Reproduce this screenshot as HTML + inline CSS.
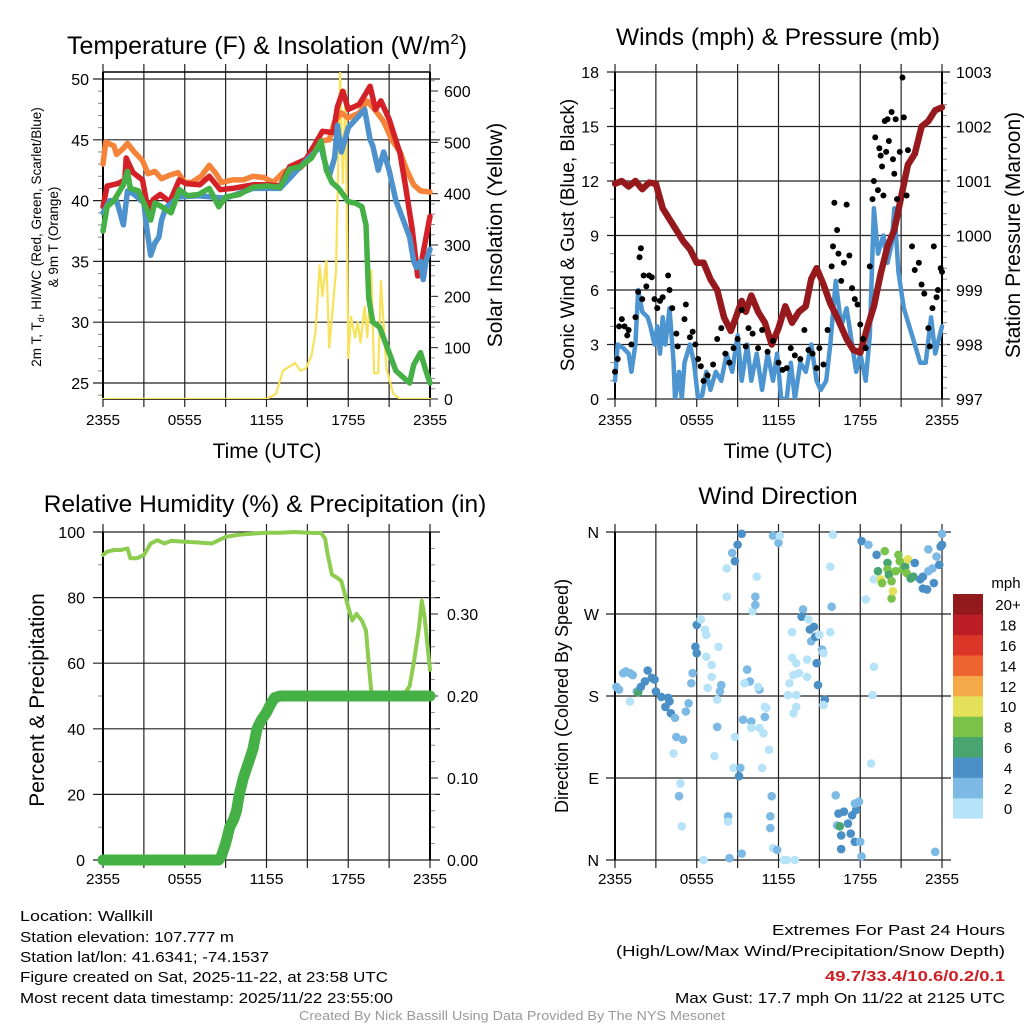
<!DOCTYPE html>
<html><head><meta charset="utf-8"><style>
html,body{margin:0;padding:0;background:#fff;}
svg{display:block;font-family:"Liberation Sans",sans-serif;}
</style></head><body>
<svg id="fig" width="1024" height="1024" viewBox="0 0 1024 1024" xmlns="http://www.w3.org/2000/svg">
<rect width="1024" height="1024" fill="#fff"/>
<g id="p1"></g>
<g id="p2"></g>
<g id="p3"></g>
<g id="p4"></g>
<g font-size="15" fill="#000">
<text x="20" y="921" textLength="133" lengthAdjust="spacingAndGlyphs">Location: Wallkill</text>
<text x="20" y="942" textLength="214" lengthAdjust="spacingAndGlyphs">Station elevation: 107.777 m</text>
<text x="20" y="962" textLength="249" lengthAdjust="spacingAndGlyphs">Station lat/lon: 41.6341; -74.1537</text>
<text x="20" y="982" textLength="368" lengthAdjust="spacingAndGlyphs">Figure created on Sat, 2025-11-22, at 23:58 UTC</text>
<text x="20" y="1003" textLength="373" lengthAdjust="spacingAndGlyphs">Most recent data timestamp: 2025/11/22 23:55:00</text>
</g>
<g font-size="15" text-anchor="end">
<text x="1005" y="935" textLength="233" lengthAdjust="spacingAndGlyphs">Extremes For Past 24 Hours</text>
<text x="1005" y="956" textLength="389" lengthAdjust="spacingAndGlyphs">(High/Low/Max Wind/Precipitation/Snow Depth)</text>
<text x="1005" y="981" fill="#cc2026" font-weight="bold" textLength="180" lengthAdjust="spacingAndGlyphs">49.7/33.4/10.6/0.2/0.1</text>
<text x="1005" y="1003" textLength="330" lengthAdjust="spacingAndGlyphs">Max Gust: 17.7 mph On 11/22 at 2125 UTC</text>
</g>
<text x="512" y="1020" font-size="13" fill="#999" text-anchor="middle" textLength="426" lengthAdjust="spacingAndGlyphs">Created By Nick Bassill Using Data Provided By The NYS Mesonet</text>
</svg>
<script>
// ---------- DATA ----------
const timeTicks = ["2355","0555","1155","1755","2355"];
const tempT = [0,0.3,1.1,1.6,1.7,2.2,2.9,3.3,3.7,4.2,4.9,5.6,6.1,7.1,7.8,8.6,9.5,11,12,13,13.7,14.9,15.6,16.1,16.9,17.2,17.6,18,18.8,19.6,20,20.4,21,21.8,22.2,22.7,23.1,23.4,24];
const tempV = [39.5,41.2,41.4,41.7,43.5,42.3,41.7,39.2,40.1,40.5,39.9,41.7,41.4,41.3,42.0,40.9,41.0,41.3,41.3,41.2,42.8,43.4,44.7,45.7,45.6,47.7,49.0,47.5,47.9,49.4,47.5,48.2,46.7,43.9,41.2,37.6,33.8,35.1,38.7];
const t9mT = [0,0.2,0.8,1.0,1.5,1.8,2.3,2.9,3.3,3.8,4.3,4.9,5.5,6.0,6.5,7.2,7.8,8.3,8.7,9.5,10.3,11,11.8,12.5,13.3,14.5,15.5,16.0,16.6,17.0,17.5,18.0,18.8,19.4,20.0,20.6,21.2,21.8,22.3,22.8,23.3,24];
const t9mV = [43.0,44.8,44.5,43.8,44.3,44.7,44.0,43.3,42.2,42.4,41.8,42.1,42.3,41.5,41.5,42.0,42.9,42.2,41.5,41.7,41.7,42.0,41.9,41.5,42.4,42.7,44.0,44.9,45.0,46.5,47.2,46.8,47.2,48.2,47.4,46.5,45.0,44.0,42.5,41.3,40.8,40.7];
const hiwcT = [0,0.5,1.0,1.5,1.8,2.3,3.0,3.2,3.5,3.8,4.1,4.3,4.6,5.5,7,9,11,13,15,16.0,16.2,16.6,17.0,17.2,17.5,18.0,18.8,19.2,19.6,19.8,20.2,20.6,21.0,21.5,22.0,22.5,22.8,23.0,23.3,23.5,23.7,24];
const hiwcV = [39.0,40.0,40.0,38.0,40.8,40.5,39.8,37.8,35.5,36.5,37.0,38.4,39.4,40.3,40.4,40.2,41.0,41.0,43.4,44.5,43.5,42.0,43.5,46.2,44.0,46.0,47.0,47.5,45.0,44.5,42.5,44.0,42.5,40.0,38.5,37.0,35.0,34.5,35.0,33.5,35.0,36.0];
const dewT = [0,0.3,0.8,1.5,1.8,2.0,2.6,3.2,3.5,3.8,4.3,5.0,5.6,6.2,7.0,7.8,8.5,9.0,10,11,12,13,13.7,14.5,15.3,16.0,16.4,16.8,17.3,18,18.5,19,19.3,19.5,19.8,20.3,21,21.5,22,22.5,22.8,23.3,23.7,24];
const dewV = [37.5,39.5,40.0,41.3,42.4,41.0,40.8,39.3,38.4,39.8,39.5,39.0,40.9,40.4,40.5,41.0,39.5,40.3,40.5,41.1,41.2,41.1,42.6,42.8,43.5,44.9,42.5,41.5,41.0,39.9,39.8,39.5,38.0,32.0,30.0,29.6,27.5,26.0,25.5,25.0,26.5,27.5,26.0,25.0];
const solarT = [0,12,12.7,13.2,13.5,14.1,14.5,14.9,15.3,15.6,15.9,16.1,16.4,16.6,16.9,17.1,17.4,17.6,17.8,18.0,18.2,18.5,18.7,18.9,19.2,19.4,19.7,19.9,20.2,20.4,20.8,21.3,21.8,24];
const solarV = [0,0,10,55,60,70,55,60,85,130,260,200,270,100,190,250,635,420,600,80,160,120,150,110,180,120,250,50,50,230,60,10,0,0];
const windT = [0,0.2,0.6,1.0,1.2,1.5,1.7,2.0,2.4,2.6,2.9,3.1,3.3,3.5,3.7,4.0,4.3,4.4,4.7,4.9,5.1,5.5,5.8,6.1,6.4,6.7,7.0,7.4,7.8,8.2,8.6,9.0,9.3,9.7,10.0,10.4,10.8,11.2,11.6,11.9,12.2,12.6,12.9,13.2,13.6,14.0,14.4,14.8,15.1,15.5,15.8,16.2,16.6,17.0,17.4,17.7,18.0,18.4,18.7,19.0,19.3,19.7,20.0,20.3,20.5,20.8,21.2,21.6,22.0,22.4,22.8,23.2,23.5,24];
const windV = [1.0,3.0,2.8,2.5,1.5,3.0,6.0,4.8,4.5,4.0,3.0,4.0,2.5,4.5,3.0,5.0,2.0,0,1.5,0,2.0,3.0,2.0,0,0.2,1.5,0.5,1.5,1.0,2.5,1.5,3.5,1.0,3.0,1.0,2.5,0.5,2.5,1.0,2.5,0,0,2.0,0,2.0,1.5,3.0,1.0,0.5,1.0,3.0,6.5,4.0,5.0,3.0,1.5,2.5,1.0,3.5,10.5,8.0,9.0,7.5,8.5,10.5,7.0,5.0,4.0,3.0,2.0,2.0,4.5,2.5,4.0];
const gustT = [0,0.2,0.3,0.5,0.7,0.9,1.0,1.2,1.5,1.7,1.8,1.9,2.0,2.1,2.3,2.5,2.7,2.9,3.1,3.3,3.5,3.9,4.0,4.2,4.5,4.6,5.1,5.2,5.5,5.7,5.9,6.1,6.3,6.5,6.8,7.2,7.5,7.8,8.1,8.4,8.7,9.0,9.3,9.6,9.8,10.1,10.5,10.8,11.2,11.6,12.0,12.3,12.6,12.9,13.2,13.6,13.9,14.2,14.5,14.8,15.0,15.3,15.6,15.9,16.0,16.1,16.3,16.4,16.6,16.8,17.0,17.2,17.4,17.6,17.8,18.0,18.2,18.4,18.7,18.9,19.0,19.1,19.3,19.4,19.5,19.6,19.7,19.8,19.9,20.0,20.1,20.3,20.4,20.5,20.6,20.7,20.9,21.1,21.2,21.4,21.5,21.8,22.0,22.3,22.5,22.7,23.0,23.1,23.3,23.4,23.6,23.7,23.9,24];
const gustV = [1.5,2.2,4,4.4,4,3.5,3.8,3.0,4.5,5.9,7.8,8.3,5.5,6.8,6.2,6.8,6.7,5.5,5.0,5.4,5.6,6.8,6.0,5.0,3.6,2.9,4.4,5.2,3.4,3.7,3.0,2.2,1.8,1.0,1.3,1.9,3.3,3.9,2.5,2.0,2.8,3.3,4.9,2.9,3.9,3.6,2.8,3.8,2.6,3.2,2.0,1.6,1.7,2.8,2.4,2.2,3.8,2.7,2.5,1.7,2.8,1.9,3.8,7.3,8.4,10.8,9.3,8.0,6.5,7.5,10.7,7.9,6.1,5.5,5.2,4.1,3.3,2.8,7.3,11.0,12.0,14.4,11.5,13.8,13.4,12.8,11.2,15.3,13.6,15.4,14.2,15.8,13.2,12.4,15.4,11.0,13.6,17.7,15.5,11.2,13.7,8.4,7.1,7.5,6.3,5.8,3.9,2.9,5.0,8.4,5.6,6.0,7.2,7.0];
const presT = [0,0.5,1.0,1.5,2.0,2.5,3.0,3.5,4.0,4.5,5.0,5.5,6.0,6.5,7.0,7.5,8.0,8.5,8.8,9.3,9.6,10.0,10.5,11.0,11.5,12.0,12.5,13.0,13.5,14.0,14.4,14.8,15.3,15.8,16.3,17.0,17.5,18.0,18.5,19.0,19.5,20.0,20.5,21.0,21.5,22.0,22.5,23.0,23.5,24];
const presV = [1000.95,1001.0,1000.9,1001.0,1000.85,1000.97,1000.95,1000.5,1000.3,1000.1,999.9,999.75,999.5,999.5,999.2,999.0,998.5,998.25,998.45,998.8,998.6,998.9,998.6,998.4,998.0,998.3,998.7,998.4,998.6,998.7,999.2,999.4,999.1,998.75,998.5,998.1,997.9,997.85,998.3,998.7,999.3,999.8,1000.1,1000.7,1001.3,1001.5,1002.0,1002.1,1002.3,1002.35];
const rhT = [0,0.3,0.8,1.3,1.8,2.0,2.5,3.0,3.5,4.0,4.5,5.0,6.0,7.0,8.0,8.5,9.0,10,11,12,13,14,15,16,16.3,16.5,16.8,17.2,17.5,18.0,18.3,18.6,19.0,19.3,19.5,19.7,20.0,20.3,21,21.5,22,22.5,22.8,23.2,23.4,23.6,24];
const rhV = [93,94,94.5,94.5,95,92,92,93,96.5,97.5,96.5,97.3,97,96.8,96.5,97.5,98.5,99.2,99.5,99.8,99.8,100,99.8,99.7,98,93,87,86,85,77,73,75,73,70,60,51,51,51,49,49,50,53,60,71,79,74,58];
const precT = [0,1,2,3,4,5,6,7,8,8.5,8.7,9.0,9.3,9.6,9.8,10.0,10.3,10.7,11.0,11.3,11.6,12.0,12.3,12.6,13,14,15,16,17,18,19,20,21,22,23,24];
const precV = [0,0,0,0,0,0,0,0,0,0,0.005,0.02,0.04,0.05,0.06,0.08,0.1,0.12,0.135,0.16,0.17,0.18,0.19,0.198,0.2,0.2,0.2,0.2,0.2,0.2,0.2,0.2,0.2,0.2,0.2,0.2];
const dirT = [0.1,0.3,0.6,0.8,1.1,1.3,1.6,1.7,1.9,2.2,2.4,2.7,2.9,3.0,3.4,3.7,3.9,4.0,4.1,4.4,4.5,5.0,5.2,5.4,4.3,4.8,4.7,4.9,1.1,6.0,5.9,6.0,5.7,5.6,6.3,6.6,6.7,6.7,7.1,7.1,6.8,7.6,7.8,7.7,7.5,7.5,7.3,8.2,8.6,8.8,9.0,9.3,8.2,9.7,9.9,9.5,9.4,10.0,10.0,10.6,10.5,11.0,11.1,11.0,10.6,10.9,11.3,10.8,8.8,8.7,9.2,9.1,8.3,8.3,8.4,9.3,6.5,10.4,10.1,10.3,10.3,11.6,12.0,12.1,11.5,11.4,11.4,11.6,11.9,12.4,12.6,13.2,13.8,13.7,14.2,14.3,14.6,14.4,14.7,14.8,14.9,15.2,15.3,15.0,15.4,15.3,13.1,13.0,13.3,13.5,12.8,12.7,13.3,13.3,13.1,13.0,14.1,14.1,15.8,15.9,16.0,15.8,16.2,16.4,16.8,17.4,17.7,16.3,16.5,16.6,17.1,17.3,17.6,18.0,16.6,18.1,17.9,17.6,18.4,19.0,18.9,18.8,18.1,18.6,19.0,19.2,19.3,19.5,19.6,19.8,20.0,20.0,20.1,20.3,20.3,20.4,20.6,20.8,20.9,21.1,21.3,21.4,21.5,21.7,21.9,22.0,22.4,22.6,22.9,22.6,23.0,23.3,23.4,23.6,23.8,23.9,24.0,24.0,23.5,23.0];
const dirV = [190,187,205,207,205,203,185,184,190,196,208,200,198,185,179,168,178,174,161,156,135,132,163,172,117,84,70,37,174,258,234,227,205,194,264,253,247,223,214,201,189,234,192,185,176,146,114,320,337,328,346,358,289,209,196,194,154,152,145,187,190,168,167,157,145,139,121,101,135,101,101,92,48,42,2,7,0,311,273,289,280,356,348,356,70,48,35,13,11,0,0,0,275,267,264,253,256,240,245,216,192,231,227,247,176,170,203,222,216,205,194,181,181,168,161,250,220,201,322,278,357,250,71,51,53,49,55,38,37,27,40,29,20,20,12,4,64,62,286,212,181,106,350,346,308,335,317,308,304,339,326,319,313,306,287,295,317,335,328,319,322,315,330,309,311,326,308,298,297,311,341,320,304,333,324,344,358,346,9,317];
const dirS = [3,3,3,3,3,3,3,7,5,5,5,5,5,5,5,5,5,5,5,3,3,3,3,3,1,1,3,1,1,5,5,5,3,3,1,1,1,1,1,1,1,1,3,3,1,3,1,1,3,5,5,5,1,3,3,1,3,3,1,3,1,1,1,3,1,1,1,1,1,1,3,5,3,1,3,3,1,1,1,3,3,3,3,1,3,3,3,1,3,1,1,1,3,5,1,5,5,3,5,5,5,3,1,1,5,1,1,1,1,1,1,1,1,1,1,1,1,1,1,3,1,1,3,5,5,5,5,3,7,5,5,5,5,3,5,3,3,3,1,1,1,1,5,3,1,5,7,11,9,9,7,9,7,9,9,11,9,9,9,9,7,9,11,7,7,5,5,5,5,5,3,3,5,3,5,5,3,5,3,3];
const cbLabels = ["0","2","4","6","8","10","12","14","16","18","20+"];
const cbColors = ["#b6e3f8","#7cb9e4","#4a8fc6","#48a56f","#7bc24b","#e4e05a","#f5a847","#ef6331","#dd3428","#bd1e25","#92191c"];

// ---------- HELPERS ----------
const NS="http://www.w3.org/2000/svg";
function mk(parent,tag,attrs,txt){const e=document.createElementNS(NS,tag);for(const k in attrs)e.setAttribute(k,attrs[k]);if(txt!==undefined)e.textContent=txt;parent.appendChild(e);return e;}
function lin(d0,d1,r0,r1){return v=>r0+(v-d0)*(r1-r0)/(d1-d0);}
function pathOf(ts,vs,sx,sy){return ts.map((t,i)=>(i?"L":"M")+sx(t).toFixed(1)+","+sy(vs[i]).toFixed(1)).join("");}

function frame(g,X0,X1,Y0,Y1,tickY){
  const sx=lin(0,24,X0,X1);
  for(let h=0;h<=24;h+=3){
    const l=mk(g,"line",{x1:sx(h),x2:sx(h),y1:Y0-8,y2:Y1+8,stroke:"#222","stroke-width":1.2});
    
    
  }
  timeTicks.forEach((s,i)=>{
    const t=mk(g,"text",{x:sx(i*6),y:tickY,"font-size":15,"text-anchor":"middle",textLength:34,lengthAdjust:"spacingAndGlyphs"},s);
    
    
  });
  return sx;
}
function hgrid(g,X0,X1,y,ext){const l=mk(g,"line",{x1:X0-ext,x2:X1+ext,y1:y,y2:y,stroke:"#222","stroke-width":1.2});}
function lbl(g,x,y,s,anchor,size,name){const t=mk(g,"text",{x:x,y:y,"font-size":size||15,"text-anchor":anchor||"end"},s);return t;}
function rot(g,x,y,s,size,name){const t=mk(g,"text",{x:0,y:0,"font-size":size,"text-anchor":"middle",transform:`translate(${x},${y}) rotate(-90)`},s);return t;}
function minor(g,x,ys,dir,len){ys.forEach(y=>mk(g,"line",{x1:x,x2:x+dir*len,y1:y,y2:y,stroke:"#888","stroke-width":1}));}

// ---------- PANEL 1 ----------
(function(){
  const g=document.getElementById("p1");
  const X0=103,X1=430,Y0=72,Y1=399;
  const sy=lin(25,50,383,79), sr=lin(0,600,399,91);
  const sx=frame(g,X0,X1,Y0,Y1,425);
  for(let v=25;v<=50;v+=5){hgrid(g,X0,X1,sy(v),10);lbl(g,X0-14,sy(v)+6,String(v),"end",16);}
  const mm=[];for(let v=24;v<=51;v++)if(v%5)mm.push(sy(v));minor(g,X0,mm.filter(y=>y>Y0&&y<Y1),-1,5);
  for(let v=0;v<=600;v+=100){mk(g,"line",{x1:X1,x2:X1+8,y1:sr(v),y2:sr(v),stroke:"#222"});lbl(g,X1+14,sr(v)+6,String(v),"start",16,'right-tick-label');}
  const rm=[];for(let v=20;v<=620;v+=20)if(v%100)rm.push(sr(v));minor(g,X1,rm,1,5);
  mk(g,"line",{x1:X0,x2:X1,y1:Y0,y2:Y0,stroke:"#000","stroke-width":1.5});
  mk(g,"line",{x1:X0,x2:X1,y1:Y1,y2:Y1,stroke:"#000","stroke-width":1.5});
  mk(g,"line",{x1:X0,x2:X0,y1:Y0,y2:Y1,stroke:"#000","stroke-width":2});
  mk(g,"line",{x1:X1,x2:X1,y1:Y0,y2:Y1,stroke:"#000","stroke-width":2});
  const clip=mk(g,"clipPath",{id:"c1"});mk(clip,"rect",{x:X0-3,y:Y0,width:X1-X0+6,height:Y1-Y0});
  const L=mk(g,"g",{"clip-path":"url(#c1)",fill:"none","stroke-linejoin":"round","stroke-linecap":"round"});
  const s1=mk(L,"path",{d:pathOf(solarT,solarV,sx,sr),stroke:"#f8e25a","stroke-width":2.2});
  
  const s2=mk(L,"path",{d:pathOf(t9mT,t9mV,sx,sy),stroke:"#f5843a","stroke-width":5.5});
  
  const s3=mk(L,"path",{d:pathOf(tempT,tempV,sx,sy),stroke:"#d42027","stroke-width":5.5});
  
  const s4=mk(L,"path",{d:pathOf(hiwcT,hiwcV,sx,sy),stroke:"#4d92cd","stroke-width":5.5});
  
  const s5=mk(L,"path",{d:pathOf(dewT,dewV,sx,sy),stroke:"#45b045","stroke-width":5.5});
  
  lbl(g,267,54,"","middle",25,'chart-title').innerHTML='Temperature (F) &amp; Insolation (W/m<tspan dy="-10" font-size="15">2</tspan><tspan dy="10">)</tspan>';
  lbl(g,267,458,"Time (UTC)","middle",21,'x-axis-title');
  rot(g,41,237,"",13.5,'y-axis-title').innerHTML='2m T, T<tspan font-size="9" dy="3">d</tspan><tspan dy="-3">, HI/WC (Red, Green, Scarlet/Blue)</tspan>';
  rot(g,58,237,"& 9m T (Orange)",13.5,'y-axis-title-line2');
  rot(g,502,235,"Solar Insolation (Yellow)",21,'right-axis-title');
})();

// ---------- PANEL 2 ----------
(function(){
  const g=document.getElementById("p2");
  const X0=615,X1=942,Y0=72,Y1=399;
  const sy=lin(0,18,399,72), sp=lin(997,1003,399,72);
  const sx=frame(g,X0,X1,Y0,Y1,425);
  for(let v=0;v<=18;v+=3){hgrid(g,X0,X1,sy(v),8);lbl(g,X0-16,sy(v)+6,String(v),"end",16);}
  const mm=[];for(let v=1;v<18;v++)if(v%3)mm.push(sy(v));minor(g,X0,mm,-1,5);
  for(let v=997;v<=1003;v++){mk(g,"line",{x1:X1,x2:X1+8,y1:sp(v),y2:sp(v),stroke:"#222"});lbl(g,X1+14,sp(v)+6,String(v),"start",16,'right-tick-label');}
  const rm=[];for(let v=997.2;v<1003;v+=0.2)rm.push(sp(v));minor(g,X1,rm,1,5);
  mk(g,"line",{x1:X0,x2:X0,y1:Y0,y2:Y1,stroke:"#000","stroke-width":2});
  mk(g,"line",{x1:X1,x2:X1,y1:Y0,y2:Y1,stroke:"#000","stroke-width":2});
  const clip=mk(g,"clipPath",{id:"c2"});mk(clip,"rect",{x:X0-3,y:Y0-3,width:X1-X0+8,height:Y1-Y0+3});
  const L=mk(g,"g",{"clip-path":"url(#c2)",fill:"none","stroke-linejoin":"round","stroke-linecap":"round"});
  const w=mk(L,"path",{d:pathOf(windT,windV,sx,sy),stroke:"#4d95d0","stroke-width":4.5});
  
  gustT.forEach((t,i)=>{const c=mk(g,"circle",{cx:sx(t),cy:sy(gustV[i]),r:3,fill:"#000"});
    
    });
  const p=mk(L,"path",{d:pathOf(presT,presV,sx,sp),stroke:"#961a1d","stroke-width":6.5});
  
  lbl(g,778,45,"Winds (mph) & Pressure (mb)","middle",24.5,'chart-title');
  lbl(g,778,458,"Time (UTC)","middle",21,'x-axis-title');
  rot(g,574,235,"Sonic Wind & Gust (Blue, Black)",19,'y-axis-title');
  rot(g,1020,235,"Station Pressure (Maroon)",21,'right-axis-title');
})();

// ---------- PANEL 3 ----------
(function(){
  const g=document.getElementById("p3");
  const X0=103,X1=430,Y0=532,Y1=860;
  const sy=lin(0,100,860,532), sr=lin(0,0.4,860,532);
  const sx=frame(g,X0,X1,Y0,Y1,884);
  for(let v=0;v<=100;v+=20){hgrid(g,X0,X1,sy(v),10);lbl(g,X0-18,sy(v)+6,String(v),"end",16);}
  const mm=[];for(let v=10;v<100;v+=20)mm.push(sy(v));minor(g,X0,mm,-1,5);
  for(let v=0;v<=0.31;v+=0.1){mk(g,"line",{x1:X1,x2:X1+8,y1:sr(v),y2:sr(v),stroke:"#222"});lbl(g,X1+17,sr(v)+6,v.toFixed(2),"start",16,'right-tick-label');}
  const rm=[];for(let v=0.02;v<0.39;v+=0.02)if(Math.abs(v*10-Math.round(v*10))>0.01)rm.push(sr(v));minor(g,X1,rm,1,5);
  mk(g,"line",{x1:X0,x2:X0,y1:Y0,y2:Y1,stroke:"#000","stroke-width":2});
  mk(g,"line",{x1:X1,x2:X1,y1:Y0,y2:Y1,stroke:"#000","stroke-width":2});
  const rh=mk(g,"path",{d:pathOf(rhT,rhV,sx,sy),stroke:"#8ccc4f","stroke-width":4,fill:"none","stroke-linejoin":"round","stroke-linecap":"round"});
  
  const pr=mk(g,"path",{d:pathOf(precT,precV,sx,sr),stroke:"#45b045","stroke-width":11,fill:"none","stroke-linejoin":"round","stroke-linecap":"round"});
  
  lbl(g,265,512,"Relative Humidity (%) & Precipitation (in)","middle",24.5,'chart-title');
  rot(g,44,700,"Percent & Precipitation",21,'y-axis-title');
})();

// ---------- PANEL 4 ----------
(function(){
  const g=document.getElementById("p4");
  const X0=615,X1=942,Y0=532,Y1=860;
  const sy=lin(0,360,860,532);
  const sx=frame(g,X0,X1,Y0,Y1,884);
  ["N","E","S","W","N"].forEach((s,i)=>{hgrid(g,X0,X1,sy(i*90),9);lbl(g,X0-16,sy(i*90)+6,s,"end",16);});
  mk(g,"line",{x1:X0,x2:X0,y1:Y0,y2:Y1,stroke:"#000","stroke-width":2});
  dirT.forEach((t,i)=>{
    const bin=Math.min(10,Math.floor(dirS[i]/2));
    const c=mk(g,"circle",{cx:sx(t),cy:sy(dirV[i]),r:4.3,fill:cbColors[bin]});
    
    
  });
  const cb=mk(g,"g",{});
  const cbTop=594,cbH=20.4;
  cbColors.forEach((col,i)=>{
    const y=cbTop+(10-i)*cbH;
    const r=mk(cb,"rect",{x:953,y:y,width:30,height:cbH+0.3,fill:col});
    
    
    lbl(cb,1008,y+cbH/2+6,cbLabels[i],"middle",15,'colorbar-label');
  });
  lbl(g,1006,588,"mph","middle",15,'colorbar-title');
  lbl(g,778,504,"Wind Direction","middle",24.5,'chart-title');
  rot(g,568,696,"Direction (Colored By Speed)",18,'y-axis-title');
})();
</script>
</body></html>
